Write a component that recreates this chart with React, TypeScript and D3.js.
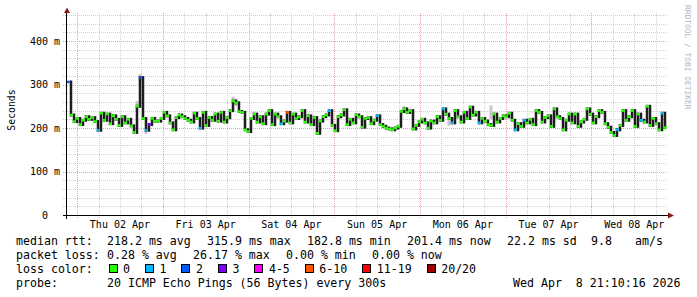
import React from 'react';
import * as d3 from 'd3';

const W = 697;
const H = 297;
const START = Date.UTC(2026, 3, 1, 21, 10, 16);
const END = Date.UTC(2026, 3, 8, 21, 10, 16);

// median rtt per step (ms)
const medianRtt = [
  306, 230, 215, 222, 208, 218, 226, 220, 224, 215,
  195, 234, 218, 232, 210, 228, 220, 206, 226, 212,
  220, 205, 190, 250, 316, 222, 195, 208, 222, 216,
  216, 222, 236, 228, 212, 196, 224, 230, 226, 222,
  218, 214, 234, 222, 200, 236, 206, 224, 218, 232,
  216, 236, 214, 224, 240, 262, 258, 238, 236, 196,
  192, 222, 232, 214, 226, 210, 232, 240, 208, 232,
  226, 210, 216, 236, 212, 232, 222, 226, 240, 214,
  228, 208, 224, 188, 216, 226, 230, 240, 206, 194,
  226, 230, 242, 208, 220, 212, 230, 226, 202, 222,
  224, 210, 218, 228, 208, 204, 200, 198, 196, 200,
  204, 238, 244, 236, 240, 198, 206, 214, 220, 212,
  200, 216, 212, 226, 218, 244, 232, 222, 212, 240,
  226, 214, 236, 222, 248, 230, 236, 212, 222, 216,
  208, 206, 232, 214, 222, 228, 226, 234, 218, 196,
  210, 204, 218, 212, 220, 208, 240, 236, 214, 224,
  228, 204, 244, 226, 222, 196, 218, 232, 212, 232,
  204, 214, 220, 244, 232, 212, 226, 240, 236, 210,
  202, 190, 183, 196, 206, 240, 218, 226, 240, 204,
  232, 218, 214, 250, 206, 222, 210, 196, 234, 201,
];

// [step index, loss bucket]
const lossMarks = [
  [0, 2], [10, 1], [24, 2], [26, 1], [27, 3], [44, 1], [71, 1], [73, 5],
  [87, 1], [103, 1], [125, 1], [128, 1], [137, 1], [149, 1], [152, 1],
  [183, 1], [191, 1], [198, 1],
];

// [step index, low ms, high ms] light smoke
const lightSmoke = [
  [23, 240, 262], [24, 300, 324], [26, 186, 200], [55, 255, 272], [56, 250, 268],
  [112, 236, 250], [127, 205, 225], [141, 220, 252],
];

const lossLabels = ['0', '1', '2', '3', '4-5', '6-10', '11-19', '20/20'];
const lossColors = ['#26ff00', '#00b8ff', '#0059ff', '#7e00ff', '#ff00ff', '#ff5500', '#ff0000', '#a10000'];

const yTickValues = [0, 100, 200, 300, 400];
const yTickLabels = ['  0', '100 m', '200 m', '300 m', '400 m'];

const rttLine = [
  [16, 'median rtt:'], [107, '218.2 ms avg'], [207, '315.9 ms max'], [307, '182.8 ms min'],
  [407, '201.4 ms now'], [507, '22.2 ms sd'], [591, '9.8'], [635, 'am/s'],
];
const lossLine = [
  [16, 'packet loss:'], [107, '0.28 % avg'], [193, '26.17 % max'], [286, '0.00 % min'], [372, '0.00 % now'],
];
const probeLine = [
  [16, 'probe:'], [107, '20 ICMP Echo Pings (56 Bytes) every 300s'], [513, 'Wed Apr  8 21:10:16 2026'],
];

const MONO = "'DejaVu Sans Mono', monospace";

export default function App() {
  const left = 67, right = 667, top = 15, bottom = 215;
  const x = d3.scaleUtc().domain([new Date(START), new Date(END)]).range([left, right]);
  const y = d3.scaleLinear().domain([0, 460]).range([bottom, top]);
  const n = medianRtt.length;
  const stepMs = (END - START) / n;
  const tx = (i: number) => x(new Date(START + i * stepMs));

  const vLines = d3.utcHour.every(6)!.range(new Date(START), new Date(END));
  const hLines = d3.range(20, 461, 20);
  const noons = d3.utcDay.range(new Date(START), new Date(END)).map((d) => new Date(+d + 12 * 3600e3)).filter((d) => +d < END);
  const fmt = d3.utcFormat('%a %d %b');

  const lossMap = new Map<number, number>(lossMarks.map((m) => [m[0], m[1]] as [number, number]));

  const FS = 11.6;
  const CW = 6.98;
  let lx = 108.5;
  const legendItems = lossLabels.map((lab, k) => {
    const bx = lx;
    const tX = bx + 14.5;
    lx = tX + lab.length * CW + 15;
    return { bx, tX, lab, col: lossColors[k] };
  });

  return (
    <svg width={W} height={H} style={{ display: 'block', position: 'absolute', left: 0, top: 0, background: '#fff' }}>
      <rect x={0} y={0} width={W} height={H} fill="#fff" />
      {/* grid */}
      {hLines.map((v) => {
        const yy = Math.round(y(v)) + 0.5;
        const major = v % 100 === 0;
        return (
          <line key={'h' + v} x1={63} x2={right} y1={yy} y2={yy}
            stroke={major ? '#e7a3a3' : '#cfcfcf'} strokeWidth={1} strokeDasharray="1,1" />
        );
      })}
      {vLines.map((t) => {
        const xx = Math.round(x(t)) + 0.5;
        const major = t.getUTCHours() === 0;
        return (
          <line key={'v' + +t} x1={xx} x2={xx} y1={top - 2} y2={bottom + 3}
            stroke={major ? '#e7a3a3' : '#cfcfcf'} strokeWidth={1} strokeDasharray="1,1" />
        );
      })}
      {/* light smoke */}
      {lightSmoke.map(([i, lo, hi]) => (
        <rect key={'s' + i} x={tx(i) - 0.5} y={y(hi)} width={3} height={y(lo) - y(hi)} fill="#c8c8c8" />
      ))}
      {/* dark transitions */}
      {medianRtt.map((v, i) => {
        if (i === 0) return null;
        const p = medianRtt[i - 1];
        const hi = Math.max(p, v), lo = Math.min(p, v);
        return (
          <rect key={'b' + i} x={tx(i) - 0.25} y={y(hi) - 1.5} width={2.5} height={y(lo) - y(hi) + 3} fill="#1e1e1e" />
        );
      })}
      {/* median colored by loss */}
      {medianRtt.map((v, i) => {
        const lvl = lossMap.get(i) ?? 0;
        return (
          <rect key={'m' + i} x={tx(i) - 0.25} y={y(v) - 1.25} width={3} height={2.5} fill={lossColors[lvl]} />
        );
      })}
      {/* axes */}
      <line x1={63} x2={669} y1={bottom + 0.5} y2={bottom + 0.5} stroke="#000" strokeWidth={1} />
      <line x1={66.5} x2={66.5} y1={12} y2={219} stroke="#000" strokeWidth={1} />
      <polygon points="64,13 70,13 67,7.5" fill="#8b1a1a" />
      <polygon points="668,212.5 668,218.5 674,215.5" fill="#8b1a1a" />
      {/* y tick labels */}
      {yTickValues.map((v, k) => (
        <text key={'yt' + v} x={30} y={y(v) + 3.5} fontFamily={MONO} fontSize={10} fill="#000" style={{ whiteSpace: 'pre' }}>
          {yTickLabels[k]}
        </text>
      ))}
      {/* x tick labels */}
      {noons.map((d) => (
        <text key={'xt' + +d} x={x(d)} y={228} textAnchor="middle" fontFamily={MONO} fontSize={10} fill="#000">
          {fmt(d)}
        </text>
      ))}
      <text transform="translate(14.5,110) rotate(-90)" textAnchor="middle" fontFamily={MONO} fontSize={9.8} fill="#000">Seconds</text>
      <text transform="translate(684.5,5) rotate(90)" fontFamily={MONO} fontSize={7.9} fill="#b4b4b4">RRDTOOL / TOBI OETIKER</text>
      {/* legend */}
      {rttLine.map(([px, s]) => (
        <text key={'r' + px} x={px as number} y={245} fontFamily={MONO} fontSize={FS} fill="#000" style={{ whiteSpace: 'pre' }}>{s}</text>
      ))}
      {lossLine.map(([px, s]) => (
        <text key={'l' + px} x={px as number} y={259} fontFamily={MONO} fontSize={FS} fill="#000" style={{ whiteSpace: 'pre' }}>{s}</text>
      ))}
      <text x={16} y={273} fontFamily={MONO} fontSize={FS} fill="#000">loss color:</text>
      {legendItems.map((it) => (
        <g key={'lg' + it.lab}>
          <rect x={Math.round(it.bx) + 0.5} y={264.5} width={8} height={8} fill={it.col} stroke="#000" strokeWidth={1} />
          <text x={it.tX} y={273} fontFamily={MONO} fontSize={FS} fill="#000">{it.lab}</text>
        </g>
      ))}
      {probeLine.map(([px, s]) => (
        <text key={'p' + px} x={px as number} y={287} fontFamily={MONO} fontSize={FS} fill="#000" style={{ whiteSpace: 'pre' }}>{s}</text>
      ))}
    </svg>
  );
}
